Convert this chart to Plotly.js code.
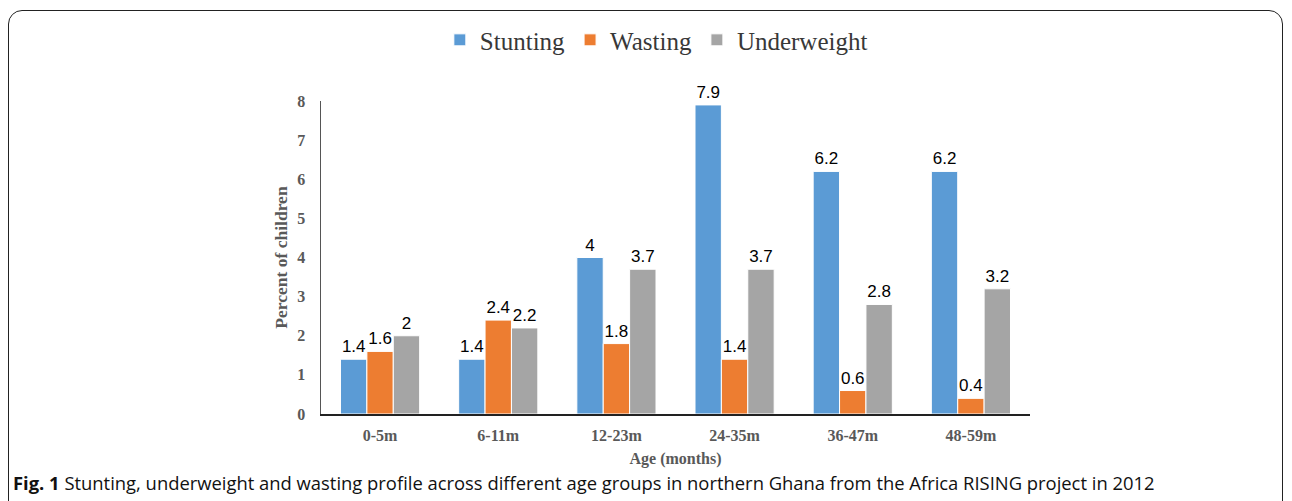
<!DOCTYPE html>
<html>
<head>
<meta charset="utf-8">
<script src="https://cdn.plot.ly/plotly-3.0.1.min.js"></script>
<style>
html,body{margin:0;padding:0;background:#fff;}
#wrap{position:relative;width:1292px;height:501px;overflow:hidden;}
#chart{position:absolute;left:0;top:0;width:1292px;height:501px;}
#frame{position:absolute;left:8px;top:10px;width:1273px;height:520px;border:1.5px solid #222;border-radius:14px;pointer-events:none;}
</style>
</head>
<body>
<div id="wrap"><div id="chart"></div><div id="frame"></div></div>
<script>
const categories = ["0-5m", "6-11m", "12-23m", "24-35m", "36-47m", "48-59m"];
const stunting = [1.4, 1.4, 4, 7.9, 6.2, 6.2];
const wasting = [1.6, 2.4, 1.8, 1.4, 0.6, 0.4];
const underweight = [2, 2.2, 3.7, 3.7, 2.8, 3.2];
const yTicks = [0, 1, 2, 3, 4, 5, 6, 7, 8];

function mk(name, vals, color) {
  return {
    type: 'bar', name: name, x: categories, y: vals,
    marker: {color: color, line: {color: '#ffffff', width: 1}},
    text: vals.map(v => String(v)), textposition: 'outside', cliponaxis: false,
    textfont: {family: 'Liberation Sans, Arial, sans-serif', size: 17, color: '#000'}
  };
}
const data = [
  mk('Stunting', stunting, '#5B9BD5'),
  mk('Wasting', wasting, '#ED7D31'),
  mk('Underweight', underweight, '#A5A5A5')
];
const serif = 'Liberation Serif, Times New Roman, serif';
const layout = {
  width: 1292, height: 501,
  margin: {l: 321, r: 262, t: 101, b: 87},
  paper_bgcolor: '#fff', plot_bgcolor: '#fff',
  barmode: 'group', bargap: 0.33, bargroupgap: 0,
  showlegend: true,
  legend: {orientation: 'h', x: 0.508, xanchor: 'center', xref: 'container', y: 0.92, yref: 'container', yanchor: 'middle',
    font: {family: serif, size: 25, color: '#383838'}, itemwidth: 30, tracegroupgap: 0, traceorder: 'normal'},
  xaxis: {
    range: [-0.5, 5.5], showline: true, linecolor: '#222', linewidth: 1.5, ticks: '', showgrid: false, zeroline: false,
    ticklabelstandoff: 6, tickangle: 0,
    tickfont: {family: serif, size: 16, color: '#595959', weight: 'bold'},
    title: {text: '<b>Age (months)</b>', standoff: 10, font: {family: serif, size: 16, color: '#595959'}}
  },
  yaxis: {
    range: [0, 8], tickvals: yTicks, showline: true, linecolor: '#555', linewidth: 1.5, ticks: '', showgrid: false, zeroline: false,
    ticklabelstandoff: 11,
    tickfont: {family: serif, size: 16, color: '#595959', weight: 'bold'},
    title: {text: '<b>Percent of children</b>', standoff: 5, font: {family: serif, size: 17.5, color: '#595959'}}
  },
  annotations: [{
    xref: 'paper', yref: 'paper', x: -0.4375, y: -0.22, xanchor: 'left', yanchor: 'middle', showarrow: false,
    text: '<b>Fig. 1</b> Stunting, underweight and wasting profile across different age groups in northern Ghana from the Africa RISING project in 2012',
    font: {family: 'Open Sans, Noto Sans, sans-serif', size: 18.4, color: '#111'}
  }]
};
Plotly.newPlot('chart', data, layout, {displayModeBar: false, staticPlot: true});
</script>
</body>
</html>
